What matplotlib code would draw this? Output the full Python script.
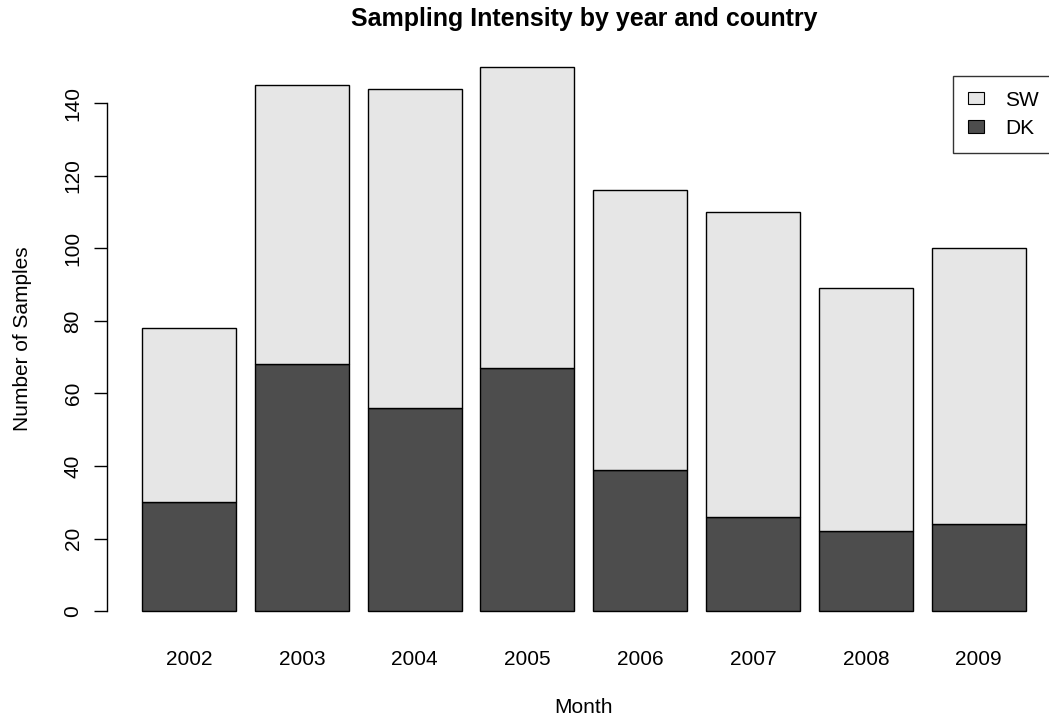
import matplotlib.pyplot as plt
from matplotlib.patches import Patch

years = ['2002', '2003', '2004', '2005', '2006', '2007', '2008', '2009']
dk = [30, 68, 56, 67, 39, 26, 22, 24]
total = [78, 145, 144, 150, 116, 110, 89, 100]
sw = [t - d for t, d in zip(total, dk)]

plt.rcParams['font.family'] = 'Liberation Sans'

fig = plt.figure(figsize=(10.49, 7.18), dpi=100)
ax = fig.add_axes([0.1017, 0.1184, 0.9097, 0.8189])

# barplot style: width 1, space 0.2
xs = [0.7 + 1.2 * i for i in range(len(years))]
ax.bar(xs, dk, width=1.0, color='#4D4D4D', edgecolor='black', linewidth=1)
ax.bar(xs, sw, width=1.0, bottom=dk, color='#E6E6E6', edgecolor='black', linewidth=1)

ax.set_xlim(-0.176, 9.976)
ax.set_ylim(-6, 156)

for s in ['top', 'right', 'bottom']:
    ax.spines[s].set_visible(False)
ax.spines['left'].set_bounds(0, 140)
ax.spines['left'].set_linewidth(1)

ax.set_yticks(range(0, 141, 20))
ax.set_yticklabels([str(v) for v in range(0, 141, 20)], rotation=90, va='center')
ax.tick_params(axis='y', length=9.4, width=1, pad=8, labelsize=15)
ax.set_xticks(xs)
ax.set_xticklabels(years)
ax.tick_params(axis='x', length=0, pad=12, labelsize=15)

ax.set_xlabel('Month', fontsize=15, labelpad=21)
ax.set_ylabel('Number of Samples', fontsize=15, labelpad=23)
fig.text(0.5565, 1 - 19 / 718, 'Sampling Intensity by year and country',
         ha='center', va='center', fontsize=18, fontweight='bold')

handles = [Patch(facecolor='#E6E6E6', edgecolor='black', linewidth=0.8, label='SW'),
           Patch(facecolor='#4D4D4D', edgecolor='black', linewidth=0.8, label='DK')]
leg = ax.legend(handles=handles, loc='upper left',
                bbox_to_anchor=(953 / 1049, 1 - 76 / 718),
                bbox_transform=fig.transFigure, fontsize=15,
                frameon=True, fancybox=False, edgecolor='black',
                handlelength=0.8, handleheight=0.55, handletextpad=1.0,
                borderpad=0.7, labelspacing=0.45, borderaxespad=0)
leg.get_frame().set_linewidth(1)

fig.savefig('out.png', dpi=100)
